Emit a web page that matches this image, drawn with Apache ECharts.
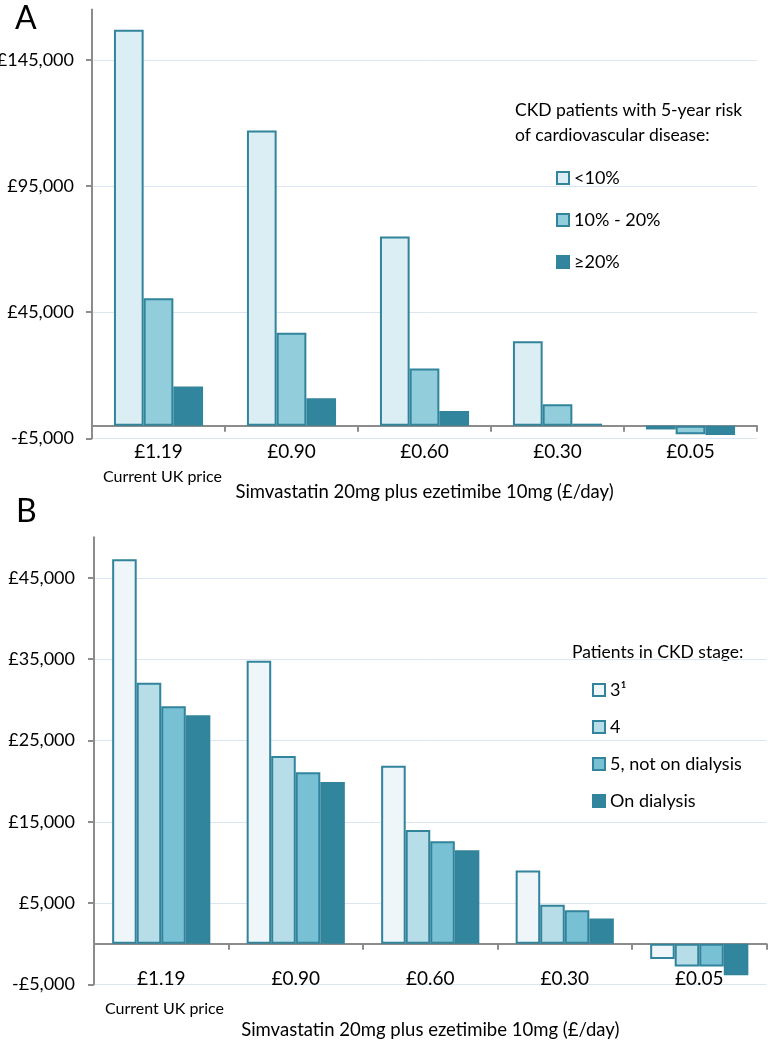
<!DOCTYPE html>
<html>
<head>
<meta charset="utf-8">
<script src="https://cdn.jsdelivr.net/npm/echarts@6/dist/echarts.min.js"></script>
<style>
  html, body { margin: 0; padding: 0; background: #fff; }
  #chart { width: 768px; height: 1040px; }
</style>
</head>
<body>
<div id="chart"></div>
<script>
// ---- Data ----
const priceCategories = ['£1.19', '£0.90', '£0.60', '£0.30', '£0.05'];
const firstCategoryNote = 'Current UK price';
const xAxisTitle = 'Simvastatin 20mg plus ezetimibe 10mg (£/day)';

// Panel A: 5-year CVD risk groups
const riskNames = ['<10%', '10% - 20%', '≥20%'];
const riskLow = [157000, 117000, 75000, 33500, -1500];
const riskMid = [50500, 36800, 22700, 8500, -3400];
const riskHigh = [15500, 10900, 5800, 800, -3700];
const yTicksA = { min: -5000, max: 165000, interval: 50000 };

// Panel B: CKD stage
const stageNames = ['3¹', '4', '5, not on dialysis', 'On dialysis'];
const stage3 = [47300, 34800, 21900, 9000, -1900];
const stage4 = [32100, 23100, 14000, 4800, -2800];
const stage5 = [29200, 21100, 12600, 4100, -2800];
const dialysis = [28100, 19900, 11500, 3100, -3900];
const yTicksB = { min: -5000, max: 50000, interval: 10000 };

// ---- Styles ----
const FONT = 'Lato, "Open Sans", sans-serif';
const TEXT = '#000';
const BORDER = '#31849B';
const AXIS = '#8C8C8C';
const GRID = '#DCE6F2';
const fillsA = ['#DAEEF3', '#92CDDC', '#31859C'];
const fillsB = ['#EEF6F9', '#B7DEE8', '#78C0D4', '#31859C'];

function money(v) {
  return (v < 0 ? '-' : '') + '£' + Math.abs(v).toLocaleString('en-US');
}

function xAxisFor(gridIndex, margin, nameGap) {
  return {
    type: 'category',
    gridIndex: gridIndex,
    data: priceCategories,
    axisLine: { show: true, onZero: true, lineStyle: { color: AXIS, width: 2 } },
    axisTick: { show: true, length: 6, lineStyle: { color: AXIS, width: 2 } },
    axisLabel: {
      interval: 0,
      margin: margin,
      color: TEXT,
      fontFamily: FONT,
      fontSize: 19,
      verticalAlign: 'middle',
      hideOverlap: false
    },
    name: xAxisTitle,
    nameLocation: 'middle',
    nameGap: nameGap,
    nameMoveOverlap: false,
    nameTextStyle: { fontFamily: FONT, fontSize: 18.5, color: TEXT, verticalAlign: 'middle' },
    splitLine: { show: false }
  };
}

function yAxisFor(gridIndex, t, margin) {
  return {
    type: 'value',
    gridIndex: gridIndex,
    min: t.min, max: t.max, interval: t.interval,
    axisLine: { show: true, lineStyle: { color: AXIS, width: 2 } },
    axisTick: { show: true, length: 6, lineStyle: { color: AXIS, width: 2 } },
    axisLabel: {
      margin: margin, color: TEXT, fontFamily: FONT, fontSize: 18,
      showMaxLabel: false,
      formatter: money
    },
    splitLine: { show: true, showMaxLine: false, showMinLine: true, lineStyle: { color: GRID, width: 1 } }
  };
}

function bar(name, data, fill, axisIdx, catGap) {
  return {
    type: 'bar', name: name, data: data,
    xAxisIndex: axisIdx, yAxisIndex: axisIdx,
    barGap: '0%', barCategoryGap: catGap,
    itemStyle: { color: fill, borderColor: BORDER, borderWidth: 2 },
    emphasis: { disabled: true }
  };
}

const chart = echarts.init(document.getElementById('chart'), null, { renderer: 'canvas' });
chart.setOption({
  animation: false,
  backgroundColor: '#fff',
  textStyle: { fontFamily: FONT },
  grid: [
    { left: 92, top: 9.5, width: 665, height: 428.8, containLabel: false, outerBoundsMode: 'none' },
    { left: 94, top: 537.3, width: 672.5, height: 447, containLabel: false, outerBoundsMode: 'none' }
  ],
  xAxis: [xAxisFor(0, 13.4, 53.4), xAxisFor(1, -5, 45.7)],
  yAxis: [yAxisFor(0, yTicksA, 18), yAxisFor(1, yTicksB, 19)],
  legend: [
    {
      data: riskNames, orient: 'vertical', left: 551, top: 163,
      icon: 'rect', itemWidth: 12, itemHeight: 12, itemGap: 22,
      textStyle: { fontFamily: FONT, fontSize: 18, color: TEXT, lineHeight: 20 },
      selectedMode: false
    },
    {
      data: stageNames, orient: 'vertical', left: 587, top: 675,
      icon: 'rect', itemWidth: 12, itemHeight: 12, itemGap: 17,
      textStyle: { fontFamily: FONT, fontSize: 18, color: TEXT, lineHeight: 20 },
      selectedMode: false
    }
  ],
  graphic: [
    { type: 'text', left: 15, top: 3, style: { text: 'A', font: '32px ' + FONT, fill: '#000' } },
    { type: 'text', left: 16, top: 496, style: { text: 'B', font: '32px ' + FONT, fill: '#000' } },
    { type: 'text', left: 515, top: 97.5, style: {
        text: 'CKD patients with 5-year risk\nof cardiovascular disease:',
        font: '17.5px ' + FONT, lineHeight: 25, fill: TEXT } },
    { type: 'text', left: 572, top: 641, style: {
        text: 'Patients in CKD stage:', font: '17.5px ' + FONT, lineHeight: 22, fill: TEXT } },
    { type: 'text', x: 162.5, y: 476.7, style: {
        text: firstCategoryNote, font: '16px ' + FONT, fill: TEXT, align: 'center', verticalAlign: 'middle' } },
    { type: 'text', x: 164.5, y: 1009.3, style: {
        text: firstCategoryNote, font: '16px ' + FONT, fill: TEXT, align: 'center', verticalAlign: 'middle' } }
  ],
  series: [
    bar(riskNames[0], riskLow, fillsA[0], 0, '33%'),
    bar(riskNames[1], riskMid, fillsA[1], 0, '33%'),
    bar(riskNames[2], riskHigh, fillsA[2], 0, '33%'),
    bar(stageNames[0], stage3, fillsB[0], 1, '27%'),
    bar(stageNames[1], stage4, fillsB[1], 1, '27%'),
    bar(stageNames[2], stage5, fillsB[2], 1, '27%'),
    bar(stageNames[3], dialysis, fillsB[3], 1, '27%')
  ]
});
</script>
</body>
</html>
